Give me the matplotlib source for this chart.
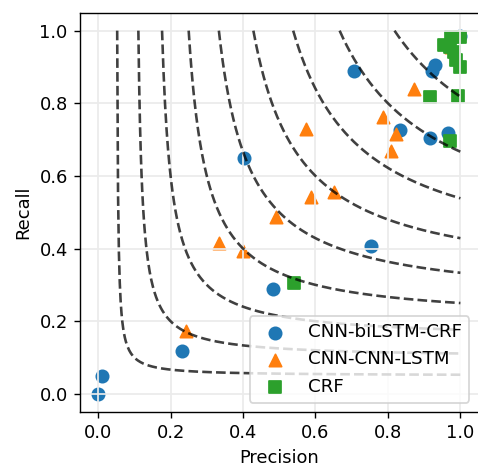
import numpy as np
import matplotlib
matplotlib.use("Agg")
import matplotlib.pyplot as plt

# F1 iso-curve levels
f1_levels = [0.1, 0.2, 0.3, 0.4, 0.5, 0.6, 0.7, 0.8, 0.9]

# CNN-biLSTM-CRF
bilstm_p = [0.0, 0.01, 0.232, 0.483, 0.403, 0.753, 0.707, 0.931, 0.923, 0.832, 0.915, 0.965, 0.998]
bilstm_r = [0.0, 0.05, 0.117, 0.288, 0.649, 0.406, 0.890, 0.906, 0.888, 0.727, 0.704, 0.718, 0.985]

# CNN-CNN-LSTM
cnn_p = [0.242, 0.334, 0.399, 0.490, 0.589, 0.650, 0.575, 0.786, 0.821, 0.809, 0.871, 0.975]
cnn_r = [0.172, 0.415, 0.392, 0.488, 0.543, 0.557, 0.729, 0.762, 0.716, 0.670, 0.839, 0.955]

# CRF
crf_p = [0.541, 0.915, 0.993, 0.972, 0.975, 1.000, 0.956, 0.970, 0.983, 0.989, 1.000]
crf_r = [0.305, 0.817, 0.821, 0.697, 0.983, 0.983, 0.961, 0.955, 0.942, 0.920, 0.900]

fig = plt.figure(figsize=(478 / 125, 468 / 125), dpi=125)
ax = fig.add_axes([80 / 478, 56 / 468, 398.5 / 478, 399.5 / 468])

ms = 50
ax.scatter(bilstm_p, bilstm_r, s=ms, marker="o", label="CNN-biLSTM-CRF", color="#1f77b4")
ax.scatter(cnn_p, cnn_r, s=ms, marker="^", label="CNN-CNN-LSTM", color="#ff7f0e")
ax.scatter(crf_p, crf_r, s=ms, marker="s", label="CRF", color="#2ca02c")

for f in f1_levels:
    p = np.linspace(f / (2 - f), 1.0, 400)
    r = f * p / (2 * p - f)
    ax.plot(p, r, linestyle="--", color="black", alpha=0.75, lw=1.5)

ax.grid(True, color="#ebebeb", lw=1.0)
ax.set_xticks([0.0, 0.2, 0.4, 0.6, 0.8, 1.0])
ax.set_yticks([0.0, 0.2, 0.4, 0.6, 0.8, 1.0])
ax.set_xlabel("Precision", fontsize=10.3)
ax.set_ylabel("Recall", fontsize=10.3)
ax.tick_params(labelsize=10.3)
ax.legend(loc="lower right", prop={"size": 10.5})

fig.savefig("out.png", dpi=125)
